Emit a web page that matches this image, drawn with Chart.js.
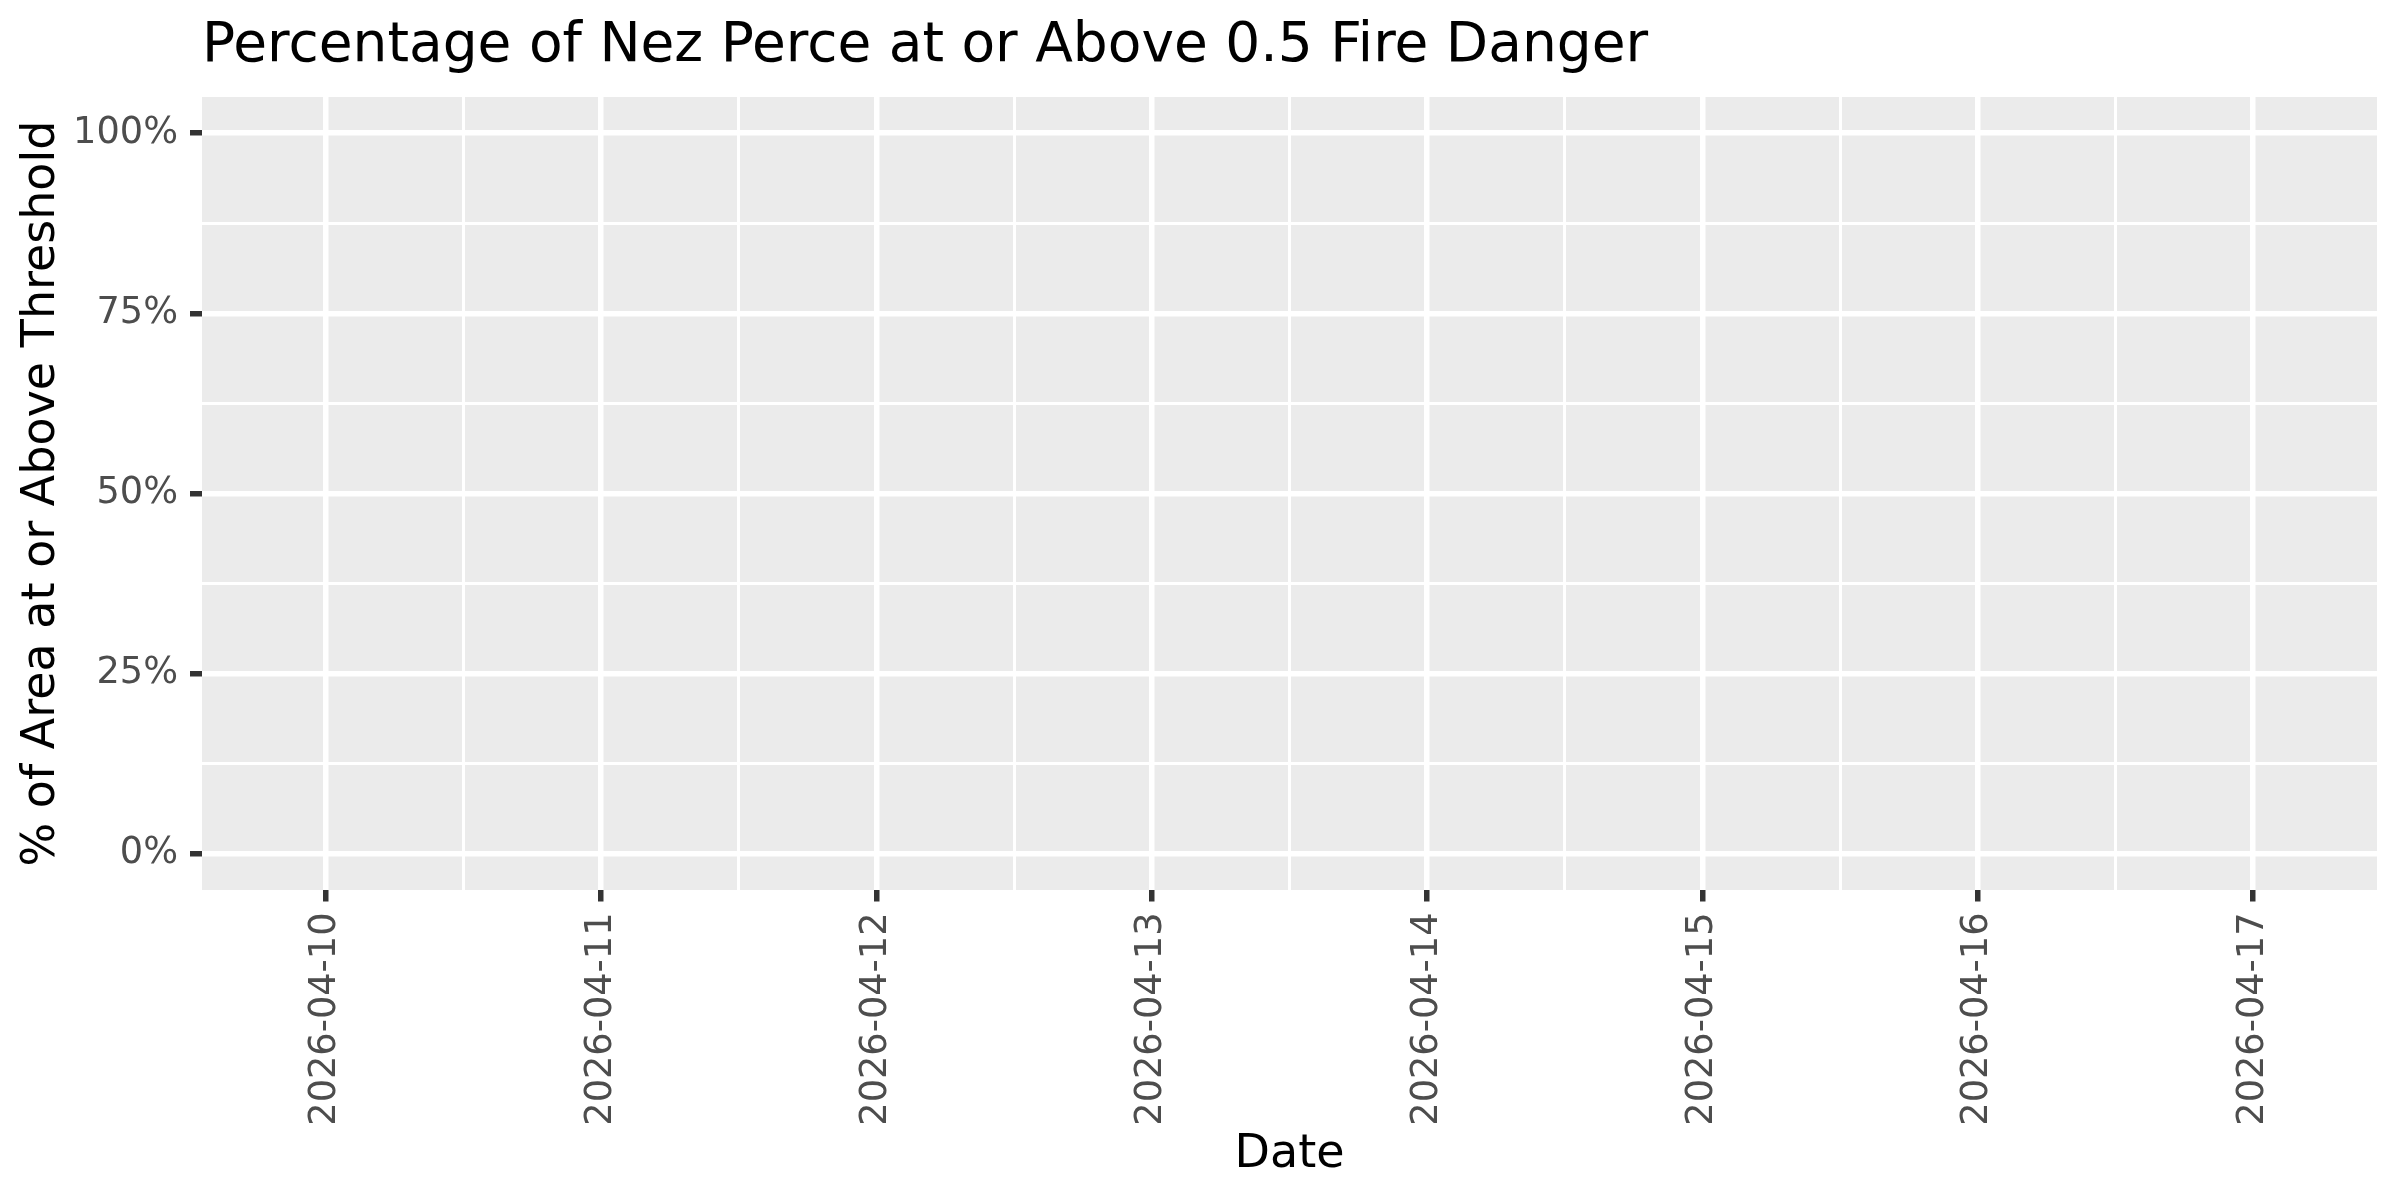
<!DOCTYPE html>
<html>
<head>
<meta charset="utf-8">
<title>Percentage of Nez Perce at or Above 0.5 Fire Danger</title>
<script src="https://cdn.jsdelivr.net/npm/chart.js@4.4.1/dist/chart.umd.min.js"></script>
<style>
  html, body { margin: 0; padding: 0; background: #ffffff; }
  canvas { display: block; }
</style>
</head>
<body>
<canvas id="chart" width="2400" height="1200"></canvas>
<script>
// dates on the x axis (one per day)
const dates = ['2026-04-10', '2026-04-11', '2026-04-12', '2026-04-13', '2026-04-14', '2026-04-15', '2026-04-16', '2026-04-17'];
// % of area at or above threshold - nothing is drawn in the picture, so no values
const pctValues = [null, null, null, null, null, null, null, null];
// y breaks in percent (major every 25, minor in between)
const yMajor = [0, 25, 50, 75, 100];
const yMinor = [12.5, 37.5, 62.5, 87.5];

const FONT = "'DejaVu Sans', 'Liberation Sans', sans-serif";

// grey panel like ggplot
const panelBg = {
  id: 'panelBg',
  beforeDraw(chart) {
    const a = chart.chartArea;
    const ctx = chart.ctx;
    ctx.save();
    ctx.fillStyle = '#EBEBEB';
    ctx.fillRect(a.left, a.top, a.right - a.left, a.bottom - a.top);
    ctx.restore();
  }
};

function isMajorX(v) { return Number.isInteger(v); }
function isMajorY(v) { return yMajor.includes(v); }

const xTicks = [];
dates.forEach((d, i) => {
  xTicks.push(i);
  if (i < dates.length - 1) xTicks.push(i + 0.5);
});
const yTicks = yMajor.concat(yMinor).sort((a, b) => a - b);

new Chart(document.getElementById('chart'), {
  type: 'line',
  data: {
    datasets: [{
      label: '% of Area',
      data: pctValues.map((v, i) => ({x: i, y: v})),
      borderColor: '#000000',
      borderWidth: 4,
      pointRadius: 0,
      spanGaps: false
    }]
  },
  options: {
    responsive: false,
    devicePixelRatio: 1,
    animation: false,
    layout: { padding: { left: 0, right: 23, top: 0, bottom: 0 } },
    plugins: {
      legend: { display: false },
      tooltip: { enabled: false },
      title: {
        display: true,
        text: 'Percentage of Nez Perce at or Above 0.5 Fire Danger',
        align: 'start',
        fullSize: false,
        color: '#000000',
        font: { family: FONT, size: 55, weight: 'normal', lineHeight: 1.2 },
        padding: { top: 14, bottom: 17 }
      }
    },
    scales: {
      x: {
        type: 'linear',
        min: -0.45,
        max: 7.45,
        afterBuildTicks: scale => { scale.ticks = xTicks.map(v => ({value: v})); },
        afterFit: scale => { scale.height = 310; },
        border: { display: false },
        grid: {
          color: '#FFFFFF',
          lineWidth: c => isMajorX(c.tick.value) ? 5.5 : 3,
          tickLength: 11.5,
          tickColor: c => isMajorX(c.tick.value) ? '#333333' : 'rgba(0,0,0,0)',
          tickWidth: 5.5
        },
        ticks: {
          autoSkip: false,
          maxRotation: 90,
          minRotation: 90,
          padding: 11,
          color: '#4D4D4D',
          font: { family: FONT, size: 36.7 },
          callback: v => isMajorX(v) ? dates[v] : ''
        },
        title: {
          display: true,
          text: 'Date',
          color: '#000000',
          font: { family: FONT, size: 46, lineHeight: 1.2 },
          padding: { top: 0, bottom: 17 }
        }
      },
      y: {
        type: 'linear',
        min: -5,
        max: 105,
        afterBuildTicks: scale => { scale.ticks = yTicks.map(v => ({value: v})); },
        afterFit: scale => { scale.width = 202; },
        border: { display: false },
        grid: {
          color: '#FFFFFF',
          lineWidth: c => isMajorY(c.tick.value) ? 5.5 : 3,
          tickLength: 12,
          tickColor: c => isMajorY(c.tick.value) ? '#333333' : 'rgba(0,0,0,0)',
          tickWidth: 5.5
        },
        ticks: {
          padding: 12,
          color: '#4D4D4D',
          font: { family: FONT, size: 36.7 },
          callback: v => isMajorY(v) ? v + '%' : ''
        },
        title: {
          display: true,
          text: '% of Area at or Above Threshold',
          color: '#000000',
          font: { family: FONT, size: 46, lineHeight: 1.2 },
          padding: { top: 14, bottom: 0 }
        }
      }
    }
  },
  plugins: [panelBg]
});
</script>
</body>
</html>
